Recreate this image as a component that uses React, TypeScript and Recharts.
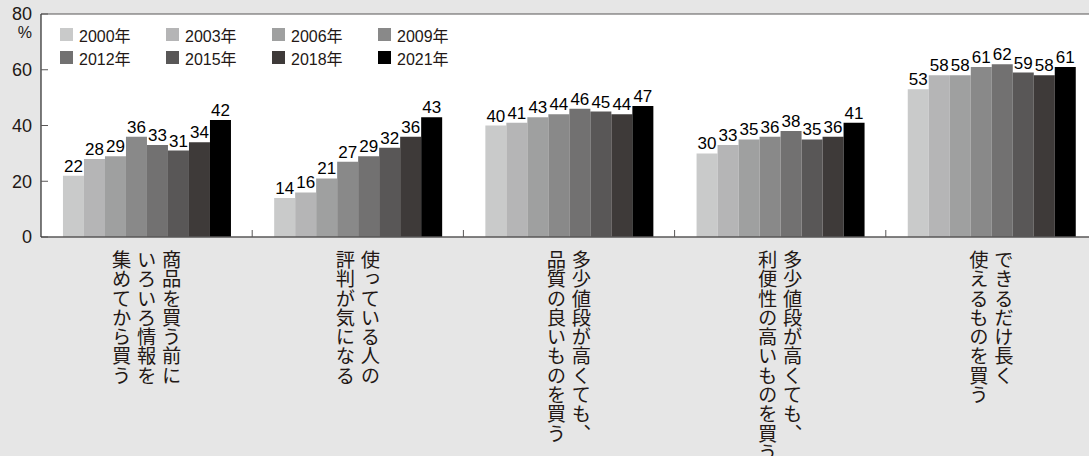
import { BarChart, Bar, XAxis, YAxis, CartesianGrid, Legend, LabelList, ReferenceLine } from "recharts";

// categories: "\n" separates the vertical columns (right to left)
const categories = [
  "商品を買う前に\nいろいろ情報を\n集めてから買う",
  "使っている人の\n評判が気になる",
  "多少値段が高くても、\n品質の良いものを買う",
  "多少値段が高くても、\n利便性の高いものを買う",
  "できるだけ長く\n使えるものを買う",
];

const years = ["2000年", "2003年", "2006年", "2009年", "2012年", "2015年", "2018年", "2021年"];
const colors = ["#c9caca", "#b5b5b6", "#9fa0a0", "#898989", "#727171", "#595757", "#3e3a39", "#000000"];

const y2000 = [22, 14, 40, 30, 53];
const y2003 = [28, 16, 41, 33, 58];
const y2006 = [29, 21, 43, 35, 58];
const y2009 = [36, 27, 44, 36, 61];
const y2012 = [33, 29, 46, 38, 62];
const y2015 = [31, 32, 45, 35, 59];
const y2018 = [34, 36, 44, 36, 58];
const y2021 = [42, 43, 47, 41, 61];

const yTicks = [0, 20, 40, 60, 80];

const series = [y2000, y2003, y2006, y2009, y2012, y2015, y2018, y2021];
const data = categories.map((name, i) => {
  const row: Record<string, string | number> = { name };
  years.forEach((yr, k) => {
    row[yr] = series[k][i];
  });
  return row;
});

const FONT = '"Liberation Sans", "Noto Sans CJK JP", sans-serif';
const INK = "#231815";

const YTick = (props: any) => {
  const { x, y, payload } = props;
  return (
    <g>
      <text x={x} y={y} dy="0.36em" textAnchor="end" fontSize={18} fill={INK} fontFamily={FONT}>
        {payload.value}
      </text>
      {payload.value === 80 && (
        <text x={x} y={y + 18} dy="0.36em" textAnchor="end" fontSize={16} fill={INK} fontFamily={FONT}>
          %
        </text>
      )}
    </g>
  );
};

const XTick = (props: any) => {
  const { x, y, payload, index } = props;
  const lines = String(payload.value).split("\n");
  const off = payload.offset ?? 0;
  const n = lines.length;
  return (
    <g>
      {index > 0 && <line x1={x - off} x2={x - off} y1={y} y2={y - 7} stroke="#595757" />}
      {lines.map((ln, i) => (
        <text
          key={i}
          x={x + ((n - 1) / 2 - i) * 25}
          y={y + 13}
          fontSize={19.3}
          fill={INK}
          fontFamily='"Noto Sans CJK JP", sans-serif'
          style={{ writingMode: "vertical-rl" }}
        >
          {ln}
        </text>
      ))}
    </g>
  );
};

const LegendBox = () => (
  <div style={{ display: "grid", gridTemplateColumns: "repeat(4, 106px)", rowGap: 4, fontFamily: FONT }}>
    {years.map((yr, k) => (
      <div key={yr} style={{ display: "flex", alignItems: "center", height: 19, fontSize: 16, color: INK }}>
        <span style={{ width: 13, height: 13, background: colors[k], marginRight: 6, display: "inline-block" }} />
        {yr}
      </div>
    ))}
  </div>
);

export default function App() {
  return (
    <div style={{ position: "absolute", left: 0, top: 0, width: 1089, height: 456, overflow: "hidden", background: "#e6e6e6" }}>
      <BarChart
        width={1100}
        height={456}
        data={data}
        margin={{ top: 14, right: 3, left: 0, bottom: 0 }}
        barCategoryGap="10.4%"
        barGap={0}
      >
        <CartesianGrid fill="#ffffff" horizontal={false} vertical={false} />
        <ReferenceLine y={80} stroke="#595757" />
        <XAxis
          dataKey="name"
          interval={0}
          height={219}
          tickSize={0}
          tickMargin={0}
          tickLine={false}
          axisLine={{ stroke: "#595757", strokeWidth: 1.5 }}
          tick={<XTick />}
        />
        <YAxis
          width={41}
          domain={[0, 80]}
          ticks={yTicks}
          interval={0}
          tickSize={-7}
          tickMargin={16}
          tickLine={{ stroke: "#595757" }}
          axisLine={{ stroke: "#000000" }}
          tick={<YTick />}
        />
        <Legend
          layout="horizontal"
          verticalAlign="middle"
          align="center"
          content={<LegendBox />}
          wrapperStyle={{ left: 60, top: 25, width: 430 }}
        />
        {years.map((yr, k) => (
          <Bar key={yr} dataKey={yr} fill={colors[k]} isAnimationActive={false}>
            <LabelList dataKey={yr} position="top" offset={4} fontSize={17} fill="#000" fontFamily={FONT} />
          </Bar>
        ))}
      </BarChart>
    </div>
  );
}
